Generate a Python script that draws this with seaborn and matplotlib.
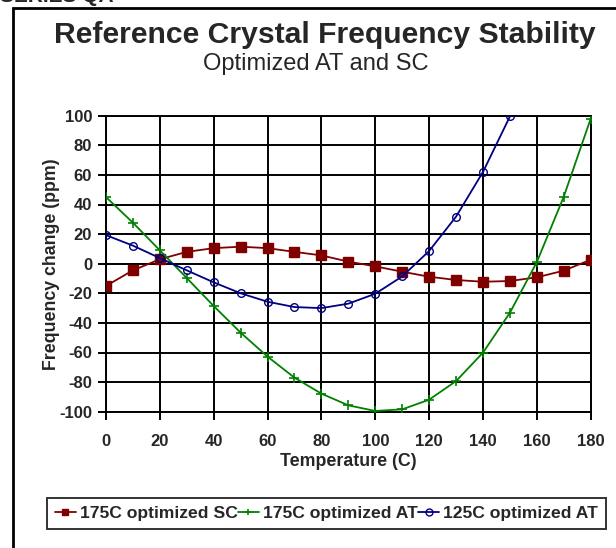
import matplotlib
matplotlib.use("Agg")
import matplotlib.pyplot as plt
import seaborn as sns
import pandas as pd
from matplotlib.patches import Rectangle

# ---- data ----
temps = [0, 10, 20, 30, 40, 50, 60, 70, 80, 90, 100, 110, 120, 130, 140, 150, 160, 170, 180]
sc175 = [-15, -4.5, 3, 8, 10.5, 11.5, 10.5, 8, 5.6, 1.4, -1.8, -5.4, -8.8, -11, -12.2, -11.7, -9.2, -4.7, 2.7]
at175 = [45, 27.7, 9, -9.7, -28.6, -46.6, -62.8, -77, -87.8, -95.7, -99.5, -98.4, -91.9, -79.3, -60.1, -33.1, 1.1, 45.3, 98]
temps125 = [0, 10, 20, 30, 40, 50, 60, 70, 80, 90, 100, 110, 120, 130, 140, 150]
at125 = [19.3, 12.2, 3.8, -4.5, -12.6, -20, -25.7, -29.3, -30, -27, -20.3, -8.6, 8.6, 31.8, 62, 99.5]
series_names = ["175C optimized SC", "175C optimized AT", "125C optimized AT"]
x_ticks = [0, 20, 40, 60, 80, 100, 120, 140, 160, 180]
y_ticks = [-100, -80, -60, -40, -20, 0, 20, 40, 60, 80, 100]

df = pd.concat([
    pd.DataFrame({"T": temps, "v": sc175, "s": series_names[0]}),
    pd.DataFrame({"T": temps, "v": at175, "s": series_names[1]}),
    pd.DataFrame({"T": temps125, "v": at125, "s": series_names[2]}),
], ignore_index=True)

sns.set_theme(style="white")
plt.rcParams["font.family"] = ["Liberation Sans", "DejaVu Sans"]
plt.rcParams["axes.unicode_minus"] = False

fig = plt.figure(figsize=(6.16, 5.48), dpi=100)
ax = fig.add_axes([106/616, 1-411.7/548, (590.7-106)/616, (411.7-115.7)/548])

colors = {series_names[0]: "#800000", series_names[1]: "#008000", series_names[2]: "#000080"}
styles = [
    dict(marker="s", ms=6.7, mfc="#800000", mec="#800000", mew=1),
    dict(marker="+", ms=6.5, mfc="none", mec="#008000", mew=1.2),
    dict(marker="o", ms=5.5, mfc="none", mec="#000080", mew=1),
]
handles = []
for name, st in zip(series_names, styles):
    sub = df[df["s"] == name]
    sns.lineplot(data=sub, x="T", y="v", ax=ax, color=colors[name], lw=1.3,
                 estimator=None, sort=False, legend=False, zorder=3, **st)
    handles.append(ax.lines[-1])

ax.set_xlim(0, 180)
ax.set_ylim(-100, 100)
ax.set_xticks(x_ticks)
ax.set_yticks(y_ticks)
ax.grid(True, color="black", lw=1.4)
ax.set_axisbelow(True)
for sp in ax.spines.values():
    sp.set_color("black")
    sp.set_linewidth(1.4)
ax.tick_params(axis="both", direction="out", length=6, width=1.4, color="black",
               labelsize=12, bottom=True, left=True)
ax.tick_params(axis="y", pad=4)
ax.tick_params(axis="x", pad=10)
for lab in ax.get_xticklabels() + ax.get_yticklabels():
    lab.set_fontweight("bold")
ax.set_xlabel("Temperature (C)", fontsize=12.8, fontweight="bold", labelpad=3)
ax.set_ylabel("Frequency change (ppm)", fontsize=12.8, fontweight="bold")
ax.yaxis.set_label_coords((60 - 106) / 484.7, 0.5)

# titles
fig.text(325/616, 1-43/548, "Reference Crystal Frequency Stability", ha="center", va="baseline",
         fontsize=21.7, fontweight="bold")
fig.text(316/616, 1-70/548, "Optimized AT and SC", ha="center", va="baseline", fontsize=17)

# partially clipped header text at top-left (as in the reference)
fig.text(0/616, 1-2/548, "SERIES QA", ha="left", va="baseline", fontsize=15, fontweight="bold")

# outer chart border
fig.patches.append(Rectangle((13/616, -0.1), 1.2, 1.1 - 8/548, transform=fig.transFigure,
                             fill=False, ec="black", lw=2, zorder=0))

leg = fig.legend(handles, series_names, loc="center left", bbox_to_anchor=(46.7/616, 1-513.7/548),
                 ncol=3, frameon=True, fancybox=False, edgecolor="black",
                 prop={"weight": "bold", "size": 12.6}, handlelength=1.2, handletextpad=0.25,
                 columnspacing=0.0, borderpad=0.45, borderaxespad=0)
leg.get_frame().set_linewidth(1.4)
for h in leg.legend_handles:
    h.set_markersize(5)

fig.savefig("out.png", dpi=100)
